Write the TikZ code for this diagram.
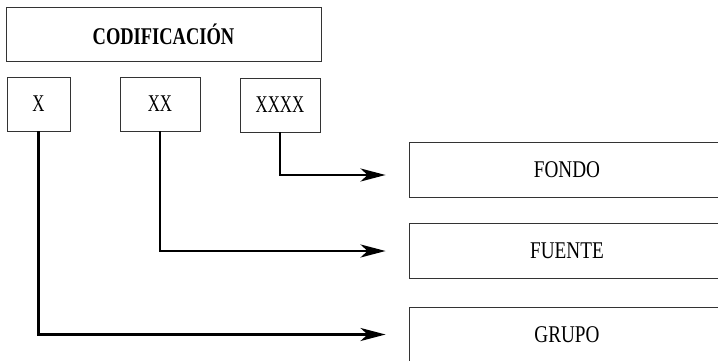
\documentclass[tikz,border=0pt]{standalone}
\usepackage{fontspec}
\setmainfont{Liberation Serif}
\usetikzlibrary{arrows.meta}
\newcommand{\narrow}[2][0.8]{\scalebox{#1}[1]{#2}}
\begin{document}
\begin{tikzpicture}[x=1pt, y=-1pt, every node/.style={draw=black!80, line width=0.9pt, rectangle, inner sep=0pt, font=\fontsize{24}{28}\selectfont},
  code/.style={minimum width=80pt, minimum height=54pt},
  field/.style={minimum width=316pt, minimum height=55pt},
  link/.style={line width=2.6pt, -{Stealth[length=25pt, width=13pt, inset=7pt]}, shorten >=23pt}]
  \useasboundingbox[clip] (0,0) rectangle (718,361);
  \node[minimum width=315pt, minimum height=54pt] (cod) at (163.5,34) {\narrow[0.77]{\textbf{CODIFICACIÓN}}};
  \node[code, minimum width=63pt] (x) at (38.5,104) {\narrow[0.7]{X}};
  \node[code] (xx) at (160,104) {\narrow[0.7]{XX}};
  \node[code] (xxxx) at (280,105) {\narrow[0.7]{XXXX}};
  \node[field] (fondo) at (567,169.5) {\narrow{FONDO}};
  \node[field] (fuente) at (567,251) {\narrow{FUENTE}};
  \node[field] (grupo) at (567,334.5) {\narrow{GRUPO}};
  \draw[link] (xxxx.south) |- ([yshift=-5.5pt]fondo.west);
  \draw[link] (xx.south) |- (fuente.west);
  \draw[link] (x.south) |- (grupo.west);
\end{tikzpicture}
\end{document}
